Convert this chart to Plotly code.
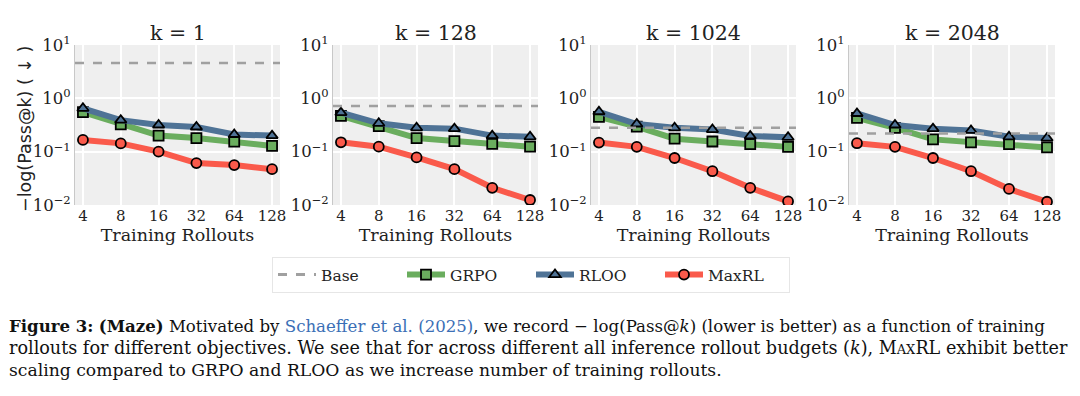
import plotly.graph_objects as go

# ---------------- data ----------------
rollouts = ["4", "8", "16", "32", "64", "128"]
panel_titles = ["k = 1", "k = 128", "k = 1024", "k = 2048"]

base_vals = [4.6, 0.72, 0.28, 0.22]

grpo_k1 = [0.55, 0.325, 0.20, 0.18, 0.154, 0.128]
grpo_k128 = [0.47, 0.30, 0.18, 0.158, 0.14, 0.124]
grpo_k1024 = [0.45, 0.295, 0.175, 0.155, 0.138, 0.123]
grpo_k2048 = [0.43, 0.28, 0.17, 0.15, 0.138, 0.12]

rloo_k1 = [0.65, 0.39, 0.316, 0.29, 0.21, 0.20]
rloo_k128 = [0.54, 0.34, 0.28, 0.27, 0.20, 0.19]
rloo_k1024 = [0.56, 0.33, 0.28, 0.26, 0.197, 0.186]
rloo_k2048 = [0.52, 0.316, 0.27, 0.25, 0.19, 0.18]

maxrl_k1 = [0.166, 0.143, 0.10, 0.061, 0.056, 0.047]
maxrl_k128 = [0.15, 0.124, 0.078, 0.047, 0.021, 0.0124]
maxrl_k1024 = [0.148, 0.123, 0.076, 0.043, 0.021, 0.0117]
maxrl_k2048 = [0.144, 0.123, 0.076, 0.043, 0.020, 0.0115]

grpo = [grpo_k1, grpo_k128, grpo_k1024, grpo_k2048]
rloo = [rloo_k1, rloo_k128, rloo_k1024, rloo_k2048]
maxrl = [maxrl_k1, maxrl_k128, maxrl_k1024, maxrl_k2048]

y_tickvals = [0.01, 0.1, 1, 10]
y_ticktext = ["10<sup>−2</sup>", "10<sup>−1</sup>", "10<sup>0</sup>", "10<sup>1</sup>"]

# ---------------- style ----------------
W, H = 1080, 396
OFF = 8  # page body margin offset
C_GRPO = "#6aad5e"
C_RLOO = "#4f7396"
C_MAX = "#fa5a4b"
C_BASE = "#a0a0a0"
SERIF = "DejaVu Serif"
CAPTION_FONT = "DejaVu Serif"


def px_x(p):
    return (p - OFF) / W


def px_y(p):
    return 1 - (p - OFF) / H


panel_px = [(75, 280), (333, 538), (591, 796), (849, 1055)]
top_px, bot_px = 45, 205

fig = go.Figure()

series = [
    ("GRPO", grpo, C_GRPO, "square"),
    ("RLOO", rloo, C_RLOO, "triangle-up"),
    ("MaxRL", maxrl, C_MAX, "circle"),
]

# legend-only entry for Base
fig.add_trace(go.Scatter(x=[None], y=[None], mode="lines", name="Base",
                         line=dict(color=C_BASE, width=3, dash="dash"),
                         xaxis="x", yaxis="y", showlegend=True))

for i in range(4):
    xa = "x" if i == 0 else f"x{i+1}"
    ya = "y" if i == 0 else f"y{i+1}"
    for name, data, col, sym in series:
        fig.add_trace(go.Scatter(
            x=rollouts, y=data[i], mode="lines+markers", name=name,
            line=dict(color=col, width=6),
            marker=dict(symbol=sym, size=10, color=col,
                        line=dict(color="black", width=1.8)),
            xaxis=xa, yaxis=ya, showlegend=(i == 0),
        ))
    fig.add_shape(type="line", xref=f"{xa} domain", yref=ya,
                  x0=0, x1=1, y0=base_vals[i], y1=base_vals[i],
                  line=dict(color=C_BASE, width=2.5, dash="dash"), layer="above")

layout = {}
for i, (l, r) in enumerate(panel_px):
    sx = "" if i == 0 else str(i + 1)
    layout[f"xaxis{sx}"] = dict(
        domain=[px_x(l), px_x(r)], anchor=f"y{sx}", type="category", automargin=False,
        range=[-0.21, 5.21], showgrid=True, gridcolor="white", gridwidth=2,
        tickfont=dict(family=SERIF, size=15, color="#222"), ticks="",
        title=dict(text="Training Rollouts", font=dict(family=SERIF, size=17.5, color="#222"),
                   standoff=2),
        showline=False, zeroline=False,
    )
    layout[f"yaxis{sx}"] = dict(
        domain=[px_y(bot_px), px_y(top_px)], anchor=f"x{sx}", type="log",
        range=[-2, 1], tickvals=y_tickvals, ticktext=y_ticktext, automargin=False,
        showgrid=True, gridcolor="white", gridwidth=2,
        tickfont=dict(family=SERIF, size=16.5, color="#222"), ticks="",
        showline=True, linecolor="#c8c8c8", linewidth=1, zeroline=False,
    )

annotations = []
for i, (l, r) in enumerate(panel_px):
    annotations.append(dict(text=panel_titles[i], x=px_x((l + r) / 2), y=px_y(33),
                            xref="paper", yref="paper", showarrow=False,
                            font=dict(family=SERIF, size=20.5, color="#222"),
                            xanchor="center", yanchor="middle"))
annotations.append(dict(text="−log(Pass@k) ( ↓ )", x=px_x(25), y=px_y(129),
                        xref="paper", yref="paper", showarrow=False, textangle=-90,
                        font=dict(family="DejaVu Sans", size=17.5, color="#222"),
                        xanchor="center", yanchor="middle"))

cap_lines = [
    "<b>Figure 3:</b> <b>(Maze)</b> Motivated by <span style='color:#3b6fb6'>Schaeffer et al. (2025)</span>, "
    "we record − log(Pass@<i>k</i>) (lower is better) as a function of training",
    "rollouts for different objectives. We see that for across different all inference rollout budgets (<i>k</i>), "
    "M<span style='font-size:13px'>AX</span>RL exhibit better",
    "scaling compared to GRPO and RLOO as we increase number of training rollouts.",
]
cap_y = [326, 348, 370]
cap_size = [16.6, 17.6, 17.2]
for t, yy, fs in zip(cap_lines, cap_y, cap_size):
    annotations.append(dict(text=t, x=px_x(7), y=px_y(yy), xref="paper", yref="paper",
                            showarrow=False, xanchor="left", yanchor="middle",
                            font=dict(family=CAPTION_FONT, size=fs, color="#111")))

fig.update_layout(
    width=W, height=H, margin=dict(l=0, r=0, t=0, b=0, autoexpand=False),
    paper_bgcolor="white", plot_bgcolor="#efefef",
    annotations=annotations,
    legend=dict(orientation="h", x=px_x(531), y=px_y(275), xanchor="center", yanchor="middle",
                bordercolor="#e6e6e6", borderwidth=1, bgcolor="white",
                font=dict(family=SERIF, size=15.5, color="#222"),
                entrywidth=76, entrywidthmode="pixels", itemwidth=38),
    **layout,
)

fig.write_html("out.html")
